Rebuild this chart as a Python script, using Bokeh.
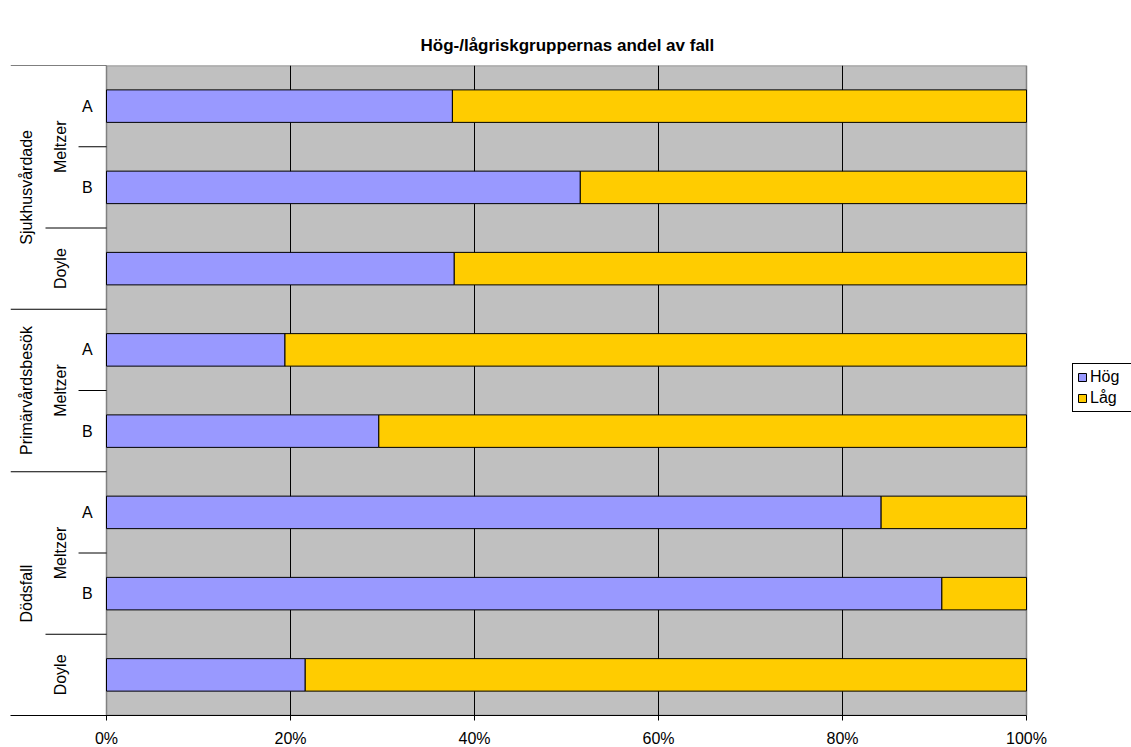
from math import pi

from bokeh.core.properties import value
from bokeh.embed import file_html
from bokeh.models import (ColumnDataSource, FixedTicker, Legend, LegendItem,
                          PrintfTickFormatter, Range1d)
from bokeh.plotting import figure
from bokeh.resources import INLINE

# Row hierarchy (outcome, model, risk score), listed top to bottom
outcome = ["Sjukhusvårdade", "Sjukhusvårdade", "Sjukhusvårdade",
           "Primärvårdsbesök", "Primärvårdsbesök",
           "Dödsfall", "Dödsfall", "Dödsfall"]
model = ["Meltzer", "Meltzer", "Doyle",
         "Meltzer", "Meltzer",
         "Meltzer", "Meltzer", "Doyle"]
variant = ["A", "B", "", "A", "B", "A", "B", ""]

# Share of cases (%) in the high- and low-risk groups
hog = [37.6, 51.5, 37.8, 19.4, 29.6, 84.2, 90.8, 21.6]
lag = [62.4, 48.5, 62.2, 80.6, 70.4, 15.8, 9.2, 78.4]

series = ["Hög", "Låg"]
colors = ["#9999ff", "#ffcc00"]
x_ticks = [0, 20, 40, 60, 80, 100]

FONT = "Liberation Sans"
n = len(hog)
ypos = [i + 0.5 for i in range(n)]

# 920 px per 100 %; label strip on the left, legend strip on the right
px = 9.2
strip = 96 / px
right_pad = 105 / px

p = figure(frame_width=1121, frame_height=650,
           x_range=Range1d(-strip, 100 + right_pad), y_range=Range1d(n, 0),
           min_border_left=10, min_border_right=0,
           min_border_top=65, min_border_bottom=32,
           output_backend="svg", toolbar_location=None,
           title="Hög-/lågriskgruppernas andel av fall")
p.outline_line_color = None
p.background_fill_color = "white"
p.border_fill_color = "white"
p.grid.visible = False
p.yaxis.visible = False

p.title.align = "left"
p.title.offset = 410
p.title.standoff = 21
p.title.text_line_height = 1.4
p.title.text_font = FONT
p.title.text_font_size = "17px"
p.title.text_font_style = "bold"
p.title.text_color = "black"

# plot area
p.quad(left=[0], right=[100], bottom=[n], top=[0],
       fill_color="#c0c0c0", line_color="#808080", line_width=1.5)
p.segment(x0=x_ticks[1:-1], x1=x_ticks[1:-1], y0=[0] * 4, y1=[n] * 4,
          line_color="black", line_width=1)

src = ColumnDataSource(dict(y=ypos, **{series[0]: hog, series[1]: lag}))
bars = p.hbar_stack(series, y="y", height=0.4, color=colors, source=src,
                    line_color="black", line_width=1)

# x axis
ax = p.xaxis[0]
ax.bounds = (-strip, 100)
ax.ticker = FixedTicker(ticks=x_ticks)
ax.formatter = PrintfTickFormatter(format="%d%%")
ax.axis_line_color = "black"
ax.major_tick_line_color = "black"
ax.major_tick_out = 5
ax.major_tick_in = 0
ax.minor_tick_line_color = None
ax.major_label_standoff = 9
ax.major_label_text_font = FONT
ax.major_label_text_font_size = "16px"
ax.major_label_text_color = "black"

# hierarchical category labels
def runs(keys):
    out = []
    start = 0
    for i in range(1, n + 1):
        if i == n or keys[i] != keys[start]:
            out.append((start, i, keys[start]))
            start = i
    return out

lvl1 = runs(outcome)
lvl2 = runs(list(zip(outcome, model)))

x1_txt, x2_txt, x3_txt = -8.7, -5.0, -2.07
x2_sep, x3_sep = -6.63, -3.04

p.text(x=[x1_txt] * len(lvl1), y=[(a + b) / 2 for a, b, _ in lvl1],
       text=[k for _, _, k in lvl1], angle=pi / 2,
       text_align="center", text_baseline="middle",
       text_font=value(FONT), text_font_size="16px", text_color="black")
p.text(x=[x2_txt] * len(lvl2), y=[(a + b) / 2 for a, b, _ in lvl2],
       text=[k[1] for _, _, k in lvl2], angle=pi / 2,
       text_align="center", text_baseline="middle",
       text_font=value(FONT), text_font_size="16px", text_color="black")
v_idx = [i for i in range(n) if variant[i]]
p.text(x=[x3_txt] * len(v_idx), y=[ypos[i] for i in v_idx],
       text=[variant[i] for i in v_idx],
       text_align="center", text_baseline="middle",
       text_font=value(FONT), text_font_size="16px", text_color="black")

sep1 = [a for a, _, _ in lvl1]
sep2 = [a for a, _, _ in lvl2 if a not in sep1]
sep3 = [i for i in v_idx if i not in sep1 and i not in sep2]
p.segment(x0=[-strip] * len(sep1), x1=[0] * len(sep1), y0=sep1, y1=sep1,
          line_color="black", line_width=1)
p.segment(x0=[x2_sep] * len(sep2), x1=[0] * len(sep2), y0=sep2, y1=sep2,
          line_color="black", line_width=1)
p.segment(x0=[x3_sep] * len(sep3), x1=[0] * len(sep3), y0=sep3, y1=sep3,
          line_color="black", line_width=1)

legend = Legend(items=[LegendItem(label=s, renderers=[r]) for s, r in zip(series, bars)],
                location=(1062, 303), margin=0, padding=4, spacing=3,
                glyph_width=10, glyph_height=10, label_standoff=3,
                label_width=60,
                label_text_font=FONT, label_text_font_size="16px",
                label_text_color="black",
                border_line_color="black", border_line_width=1,
                border_line_alpha=1,
                background_fill_color="white", background_fill_alpha=1)
p.add_layout(legend, "center")

open("out.html", "w").write(file_html(p, INLINE))
